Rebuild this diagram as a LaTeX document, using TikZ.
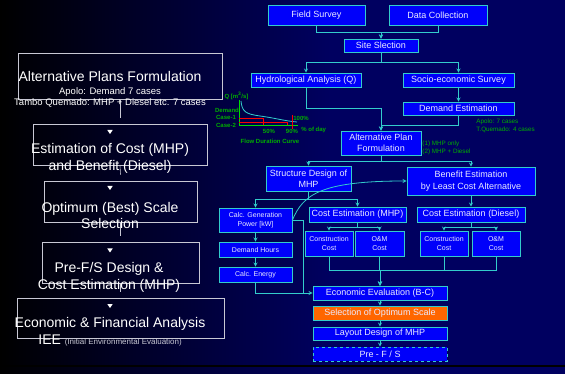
\documentclass[tikz,border=0pt]{standalone}
\usepackage{fontspec}
\setmainfont{Liberation Sans}

\definecolor{bgnavy}{RGB}{0,0,96}
\definecolor{boxblue}{RGB}{0,0,250}
\definecolor{edgecyan}{RGB}{51,204,204}
\definecolor{boxtext}{RGB}{235,235,255}
\definecolor{selorange}{RGB}{255,102,0}
\definecolor{notegreen}{RGB}{0,175,0}
\definecolor{axisgreen}{RGB}{0,220,0}
\definecolor{stagegrey}{RGB}{200,200,212}

\begin{document}
\begin{tikzpicture}[
        > = stealth,
        x = 1pt,
        y = -1pt,
        line width = 0.8pt,
        box/.style = {draw = edgecyan, fill = boxblue, text = boxtext, line width = 0.9pt, inner sep = 0pt, align = center, font = \fontsize{9}{11.5}\selectfont},
        smallbox/.style = {box, font = \fontsize{7}{8.5}\selectfont},
        link/.style = {draw = edgecyan, line width = 0.8pt},
        stage/.style = {draw = stagegrey, line width = 0.8pt, inner sep = 0pt},
        stagelink/.style = {draw = stagegrey, line width = 0.6pt},
        stagetext/.style = {text = white, inner sep = 0pt, align = center, font = \fontsize{14}{16.7}\selectfont},
        stagesub/.style = {text = white, inner sep = 0pt, font = \fontsize{9.5}{11}\selectfont},
        note/.style = {text = notegreen, inner sep = 0pt, anchor = west, font = \fontsize{6.3}{7}\selectfont},
        fdclabel/.style = {text = notegreen, inner sep = 0pt, font = \fontsize{6}{7}\selectfont\bfseries}
    ]
        \useasboundingbox (0,0) rectangle (565,374);
        \shade[left color = black, right color = bgnavy] (0,0) rectangle (330,374);
        \fill[bgnavy] (330,0) rectangle (565,374);
        \draw[black, line width = 2pt] (0,365.5) -- (565,365.5);

        % stages on the left
        \node[stage, minimum width = 204pt, minimum height = 46pt] (b1) at (120,76) {};
        \node[stage, minimum width = 174pt, minimum height = 41pt] (b2) at (120,144.5) {};
        \node[stage, minimum width = 153pt, minimum height = 41pt] (b3) at (120.5,201.5) {};
        \node[stage, minimum width = 157pt, minimum height = 41pt] (b4) at (120.5,262.5) {};
        \node[stage, minimum width = 207pt, minimum height = 40pt] (b5) at (120.5,318) {};
        \draw[stagelink] (b1.south) -- ([yshift = 6pt]b2.north);
        \draw[stagelink] (b2.south) -- ([yshift = 6pt]b3.north);
        \draw[stagelink] (b3.south) -- ([yshift = 6pt]b4.north);
        \draw[stagelink] (b4.south) -- ([yshift = 6pt]b5.north);
        \foreach \ty in {130,186,248.5,304}
            \fill[white] (107.3,\ty) -- (112.7,\ty) -- (110,\ty+4) -- cycle;

        \node[stagetext, anchor = base] (t1) at (110,82) {Alternative Plans Formulation};
        \node[stagesub, anchor = base] (t1a) at (110,94.7) {Apolo: Demand 7 cases};
        \node[stagesub, anchor = base] (t1b) at (110,105.3) {Tambo Quemado: MHP + Diesel etc. 7 cases};
        \node[stagetext] (t2) at (110,158.2) {Estimation of Cost (MHP)\\and Benefit (Diesel)};
        \node[stagetext] (t3) at (110,215.6) {Optimum (Best) Scale\\Selection};
        \node[stagetext] (t4) at (109,277.6) {Pre-F/S Design \&\\Cost Estimation (MHP)};
        \node[stagetext, anchor = base] (t5) at (110,327.3) {Economic \& Financial Analysis};
        \node[stagetext, anchor = base west] (t6) at (38,344) {IEE {\fontsize{8}{8}\selectfont\color{stagegrey}(Initial Environmental Evaluation)}};

        % flow duration curve
        \draw[axisgreen] (239,100) -- (239,125) -- (298,125);
        \draw[edgecyan] (241,101) .. controls (242,112) and (246,114) .. (260,116) .. controls (275,118) and (285,121) .. (297,122);
        \draw[red, line width = 0.7pt] (239,118) -| (263,125);
        \draw[red, line width = 0.7pt] (239,122) -| (287,125);
        \draw[red, line width = 0.7pt] (292,115) -- (292,129);
        \node[fdclabel] (qlab) at (236.5,96) {Q [m\textsuperscript{3}/s]};
        \node[fdclabel] (dlab) at (227,110) {Demand};
        \node[fdclabel] (c1lab) at (226,117.7) {Case-1};
        \node[fdclabel] (c2lab) at (226,125.5) {Case-2};
        \node[fdclabel, anchor = west] (plab) at (293,118) {100\%};
        \node[fdclabel] (p50) at (269,131) {50\%};
        \node[fdclabel] (p90) at (292,131) {90\%};
        \node[fdclabel, anchor = west] (pday) at (301,130) {\% of day};
        \node[fdclabel] (fdc) at (270,141) {Flow Duration Curve};

        % flow chart
        \node[box, minimum width = 97pt, minimum height = 20pt] (fs) at (316.5,15) {Field Survey};
        \node[box, minimum width = 98pt, minimum height = 20pt] (dcol) at (438,15) {Data Collection};
        \node[box, minimum width = 74pt, minimum height = 13pt] (ss) at (381,45.5) {Site Slection};
        \node[box, minimum width = 110pt, minimum height = 14pt] (ha) at (306,80) {Hydrological Analysis (Q)};
        \node[box, minimum width = 111pt, minimum height = 14pt] (se) at (458.5,80) {Socio-economic Survey};
        \node[box, minimum width = 111pt, minimum height = 13pt] (de) at (458.5,108.5) {Demand Estimation};
        \node[box, minimum width = 80pt, minimum height = 24pt] (ap) at (381,143) {Alternative Plan\\Formulation};
        \node[box, minimum width = 85pt, minimum height = 25pt] (sd) at (308.5,178.5) {Structure Design of\\MHP};
        \node[box, minimum width = 128pt, minimum height = 28pt] (be) at (471,181) {Benefit Estimation\\by Least Cost Alternative};
        \node[smallbox, minimum width = 73pt, minimum height = 24pt] (cg) at (255.5,220) {Calc. Generation\\Power [kW]};
        \node[smallbox, minimum width = 73pt, minimum height = 15pt] (dh) at (255.5,249.5) {Demand Hours};
        \node[smallbox, minimum width = 73pt, minimum height = 15pt] (en) at (255.5,274.5) {Calc. Energy};
        \node[box, minimum width = 97pt, minimum height = 15pt] (cm) at (357.5,214.5) {Cost Estimation (MHP)};
        \node[box, minimum width = 108pt, minimum height = 15pt] (cd) at (471,214.5) {Cost Estimation (Diesel)};
        \node[smallbox, minimum width = 48pt, minimum height = 25pt] (mcon) at (329,243.5) {Construction\\Cost};
        \node[smallbox, minimum width = 49pt, minimum height = 25pt] (mom) at (379.5,243.5) {O\&M\\Cost};
        \node[smallbox, minimum width = 48pt, minimum height = 25pt] (dcon) at (444,243.5) {Construction\\Cost};
        \node[smallbox, minimum width = 48pt, minimum height = 25pt] (dom) at (496,243.5) {O\&M\\Cost};
        \node[box, minimum width = 134pt, minimum height = 14pt] (ee) at (380,293) {Economic Evaluation (B-C)};
        \node[box, fill = selorange, minimum width = 134pt, minimum height = 14pt] (so) at (380,313) {Selection of Optimum Scale};
        \node[box, minimum width = 134pt, minimum height = 13pt] (ld) at (380,333.5) {Layout Design of MHP};
        \node[box, dashed, minimum width = 134pt, minimum height = 14pt] (pfs) at (380,354) {Pre - F / S};
        \coordinate (jn) at (303,293);

        \node[note] (n1) at (422,144) {(1) MHP only};
        \node[note] (n2) at (422,151.5) {(2) MHP + Diesel};
        \node[note] (n3) at (476,122) {Apolo: 7 cases};
        \node[note] (n4) at (476,129.5) {T.Quemado: 4 cases};

        \draw[link, ->] (fs.south) -- ++(0,7) -| (ss.north);
        \draw[link, ->] (dcol.south) -- ++(0,7) -| (ss.north);
        \draw[link, ->] (ss.south) -- ++(0,10) -| (ha.north);
        \draw[link, ->] (ss.south) -- ++(0,10) -| (se.north);
        \draw[link, ->] (se) -- (de);
        \draw[link, ->] (ha.south) -- ++(0,21) -| (ap.north);
        \draw[link, ->] (de.south) -- ++(0,10) -| (ap.north);
        \draw[link, ->] (ap.south) -- ++(0,6) -| (sd.north);
        \draw[link, ->] (ap.south) -- ++(0,6) -| (be.north);
        \draw[link, ->] (sd.south) -- ++(0,8) -| (cg.north);
        \draw[link, ->] (sd.south) -- ++(0,8) -| (cm.north);
        \draw[link, ->] (be) -- (cd);
        \draw[link, ->] (cm.south) -- ++(0,5) -| (mcon.north);
        \draw[link, ->] (cm.south) -- ++(0,5) -| (mom.north);
        \draw[link, ->] (cd.south) -- ++(0,5) -| (dcon.north);
        \draw[link, ->] (cd.south) -- ++(0,5) -| (dom.north);
        \draw[link, ->] (cg) -- (dh);
        \draw[link, ->] (dh) -- (en);
        \draw[link, ->] (en.south) |- (ee.west);
        \draw[link] (cg.east) -| (jn);
        \draw[link, ->] (cg.east) .. controls (303,195) and (320,181) .. (be.west);
        \draw[link, ->] (mcon.south) -- ++(0,14) -| (ee.north);
        \draw[link, ->] (mom.south) -- ++(0,14) -| (ee.north);
        \draw[link, ->] (dcon.south) -- ++(0,14) -| (ee.north);
        \draw[link, ->] (dom.south) -- ++(0,14) -| (ee.north);
        \draw[link, ->] (ee) -- (so);
        \draw[link, ->] (so) -- (ld);
        \draw[link, ->] (ld) -- (pfs);
    \end{tikzpicture}
\end{document}
